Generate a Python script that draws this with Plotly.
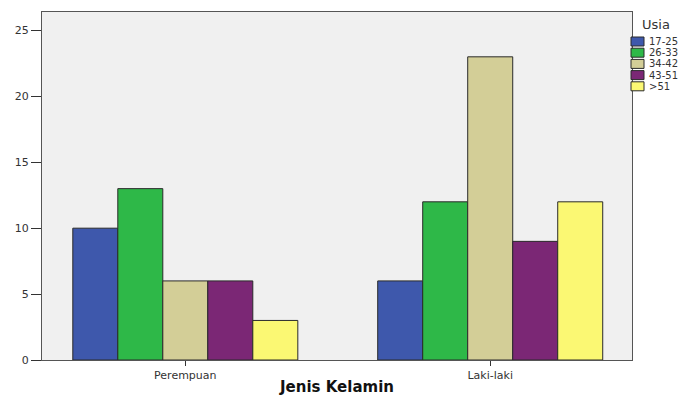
import plotly.graph_objects as go

categories = ["Perempuan", "Laki-laki"]
age_groups = ["17-25", "26-33", "34-42", "43-51", ">51"]
values = {
    "17-25": [10, 6],
    "26-33": [13, 12],
    "34-42": [6, 23],
    "43-51": [6, 9],
    ">51": [3, 12],
}
colors = ["#3e58ac", "#2eb848", "#d3ce97", "#7b2775", "#fbf873"]
y_ticks = [0, 5, 10, 15, 20, 25]

# page body has an 8px margin, so the figure is sized/offset to fit the window
OFF = 8
W, H = 691 - OFF, 396 - OFF
ML, MR, MT, MB = 42 - OFF, 0, 12 - OFF, H - (360 - OFF)
PW, PH = W - ML - MR, H - MT - MB


def px_x(px):
    return (px - OFF - ML) / PW


def px_y(py):
    return 1 - (py - OFF - MT) / PH


fig = go.Figure()
for name, col in zip(age_groups, colors):
    fig.add_trace(go.Bar(
        x=categories, y=values[name], name=name,
        marker=dict(color=col, line=dict(color="#2a2a2a", width=1)),
    ))

FONT = "DejaVu Sans, Verdana, sans-serif"

# Compact legend (SPSS style)
shapes = []
annotations = [dict(
    text="Usia", xref="paper", yref="paper", x=px_x(640), y=px_y(25),
    xanchor="left", yanchor="middle", showarrow=False,
    font=dict(size=13, color="#333333", family=FONT),
)]
for i, (name, col) in enumerate(zip(age_groups, colors)):
    cy = 41.5 + 11.2 * i
    shapes.append(dict(
        type="rect", xref="paper", yref="paper",
        x0=px_x(631), x1=px_x(644), y0=px_y(cy - 4.5), y1=px_y(cy + 4.5),
        fillcolor=col, line=dict(color="#2a2a2a", width=1),
    ))
    annotations.append(dict(
        text=name, xref="paper", yref="paper", x=px_x(647), y=px_y(cy),
        xanchor="left", yanchor="middle", showarrow=False,
        font=dict(size=10, color="#333333", family=FONT),
    ))

fig.update_layout(
    width=W, height=H,
    margin=dict(l=ML, r=MR, t=MT, b=MB, autoexpand=False),
    paper_bgcolor="white",
    plot_bgcolor="#f0f0f0",
    barmode="group",
    bargap=0.262,
    bargroupgap=0,
    font=dict(family=FONT, size=11, color="#333333"),
    showlegend=False,
    shapes=shapes,
    annotations=annotations,
    xaxis=dict(
        domain=[0, (632 - 42) / PW],
        range=[-0.47, 1.465],
        showline=True, linecolor="#555555", linewidth=1, mirror=True,
        ticks="outside", ticklen=5, tickcolor="#333333",
        tickfont=dict(size=11),
        showgrid=False, automargin=False,
        title=dict(text="<b>Jenis Kelamin</b>", font=dict(size=15, color="#111111"), standoff=13),
    ),
    yaxis=dict(
        range=[0, 26.4],
        tickvals=y_ticks,
        showline=True, linecolor="#555555", linewidth=1, mirror=True,
        ticks="outside", ticklen=10, tickcolor="#333333",
        tickfont=dict(size=11),
        showgrid=False, zeroline=False, automargin=False,
    ),
)

fig.write_html("out.html")
